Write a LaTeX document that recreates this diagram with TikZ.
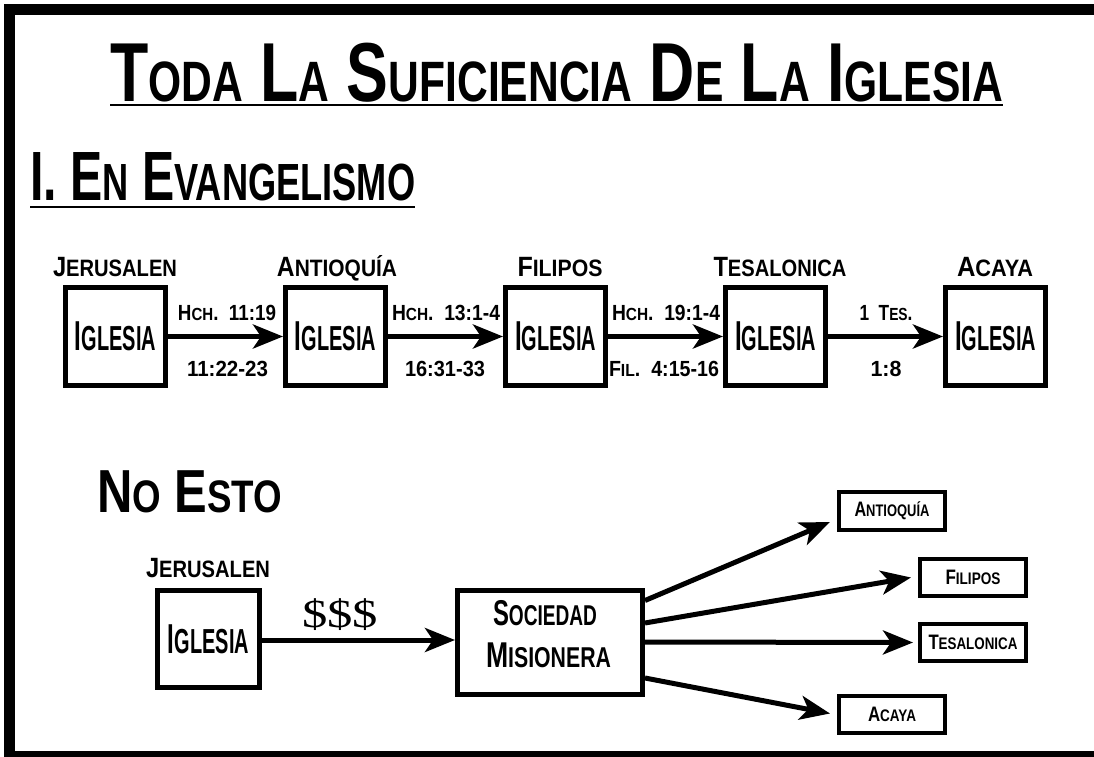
\documentclass[tikz,border=0pt]{standalone}
\usepackage{fontspec}
\setmainfont[FakeStretch=0.6]{Liberation Sans Bold}
\newfontfamily\dollarfont{Liberation Serif}
\usetikzlibrary{arrows.meta,calc}
\newcommand\sm[2][0.8]{\scalebox{#1}{#2}}
\newcommand\fs[1]{\fontsize{#1}{#1}\selectfont}
\newcommand\fw[2]{\resizebox{#1}{\height}{#2}}
\begin{document}
\begin{tikzpicture}[x=1bp,y=-1bp,
  box/.style={draw,line width=5bp,minimum width=100bp,minimum height=98bp,inner sep=0pt,font=\fs{42}},
  lbl/.style={inner sep=0pt,anchor=base,font=\fs{28}},
  refl/.style={inner sep=0pt,anchor=base,font=\fs{22}},
  arr/.style={line width=5bp,-{Stealth[length=30bp,width=24bp,inset=8bp]}},
  sbox/.style={draw,line width=4bp,inner sep=0pt,font=\fs{21}},
  uline/.style={line width=2bp}
  ]
\fill[white] (0,0) rectangle (1094,757);
\useasboundingbox (0,0) rectangle (1094,757);
\fill (4,4) rectangle (1094,15);
\fill (4,4) rectangle (15,757);
\fill (4,750.5) rectangle (1094,757);

% title
\node[anchor=base west,inner sep=0pt,font=\fs{84}] (title) at (110,102)
  {\fw{893bp}{T\sm[0.68]{ODA} L\sm[0.68]{A} S\sm[0.68]{UFICIENCIA} D\sm[0.68]{E} L\sm[0.68]{A} I\sm[0.68]{GLESIA}}};
\draw[uline] ([yshift=-3bp]title.base west) -- ([yshift=-3bp]title.base east);
\node[anchor=base west,inner sep=0pt,font=\fs{70}] (sec) at (30,200)
  {\fw{385bp}{I. E\sm[0.75]{N} E\sm[0.75]{VANGELISMO}}};
\draw[uline] ([yshift=-7bp]sec.base west) -- ([yshift=-7bp]sec.base east);

% top row
\node[box] (j) at (115.5,336.5) {\fw{81bp}{I\sm[0.83]{GLESIA}}};
\node[box] (a) at (335.5,336.5) {\fw{81bp}{I\sm[0.83]{GLESIA}}};
\node[box] (f) at (555.5,336.5) {\fw{81bp}{I\sm[0.83]{GLESIA}}};
\node[box] (t) at (775.5,336.5) {\fw{81bp}{I\sm[0.83]{GLESIA}}};
\node[box] (c) at (995.5,336.5) {\fw{81bp}{I\sm[0.83]{GLESIA}}};
\node[lbl] (lj) at (115,276) {\fw{124bp}{J\sm[0.85]{ERUSALEN}}};
\node[lbl] (la) at (337,276) {\fw{120bp}{A\sm[0.85]{NTIOQUÍA}}};
\node[lbl] (lf) at (560,276) {\fw{85bp}{F\sm[0.85]{ILIPOS}}};
\node[lbl] (lt) at (780,276) {\fw{133bp}{T\sm[0.85]{ESALONICA}}};
\node[lbl] (lc) at (995,276) {\fw{76bp}{A\sm[0.85]{CAYA}}};
\draw[arr] (j) -- (a);
\draw[arr] (a) -- (f);
\draw[arr] (f) -- (t);
\draw[arr] (t) -- (c);
\node[refl] (r1a) at (227,320) {\fw{98bp}{H\sm{CH}.\ \ 11:19}};
\node[refl] (r1b) at (227.5,376) {\fw{81bp}{11:22-23}};
\node[refl] (r2a) at (446,320) {\fw{108bp}{H\sm{CH}.\ \ 13:1-4}};
\node[refl] (r2b) at (445,376) {\fw{80bp}{16:31-33}};
\node[refl] (r3a) at (666,320) {\fw{108bp}{H\sm{CH}.\ \ 19:1-4}};
\node[refl] (r3b) at (664,376) {\fw{110bp}{F\sm{IL}.\ \ 4:15-16}};
\node[refl] (r4a) at (886,320) {\fw{53bp}{1\ \ T\sm{ES}.}};
\node[refl] (r4b) at (886,376) {\fw{31bp}{1:8}};

% bottom
\node[anchor=base west,inner sep=0pt,font=\fs{61}] (no) at (97,512) {\fw{185bp}{N\sm[0.75]{O} E\sm[0.75]{STO}}};
\node[lbl] (lj2) at (208,577) {\fw{124bp}{J\sm[0.85]{ERUSALEN}}};
\node[box,minimum width=102bp,minimum height=97bp] (j2) at (208.5,639) {\fw{81bp}{I\sm[0.83]{GLESIA}}};
\node[draw,line width=5bp,minimum width=185bp,minimum height=104bp,inner sep=0pt] (soc) at (550,642.5) {};
\node[anchor=base,inner sep=0pt,font=\fs{36}] (soc1) at (545,625) {\fw{104bp}{S\sm{OCIEDAD}}};
\node[anchor=base,inner sep=0pt,font=\fs{36}] (soc2) at (548.5,667) {\fw{125bp}{M\sm{ISIONERA}}};
\draw[arr] (j2.east |- 0,640) -- (soc.west |- 0,640);
\node[anchor=base,inner sep=0pt,font={\dollarfont\fontsize{40}{40}\selectfont}] (usd) at (340,627) {\fw{76bp}{\$\$\$}};

\node[sbox,minimum width=106bp,minimum height=38bp] (sa) at (892,511) {\fw{75bp}{A\sm{NTIOQUÍA}}};
\node[sbox,minimum width=106bp,minimum height=37bp] (sf) at (973,577.5) {\fw{55bp}{F\sm{ILIPOS}}};
\node[sbox,minimum width=106bp,minimum height=37bp] (st) at (973,642.5) {\fw{89bp}{T\sm{ESALONICA}}};
\node[sbox,minimum width=106bp,minimum height=37bp] (sc) at (892,714.5) {\fw{48bp}{A\sm{CAYA}}};
\draw[arr] ([yshift=42bp]soc.east) -- ([xshift=-7bp,yshift=-11bp]sa.west);
\draw[arr] ([yshift=19.5bp]soc.east) -- ([xshift=-7bp]sf.west);
\draw[arr] ([yshift=0.5bp]soc.east) -- ([xshift=-5bp]st.west);
\draw[arr] ([yshift=-35.5bp]soc.east) -- ([xshift=-7bp,yshift=1bp]sc.west);
\end{tikzpicture}
\end{document}
